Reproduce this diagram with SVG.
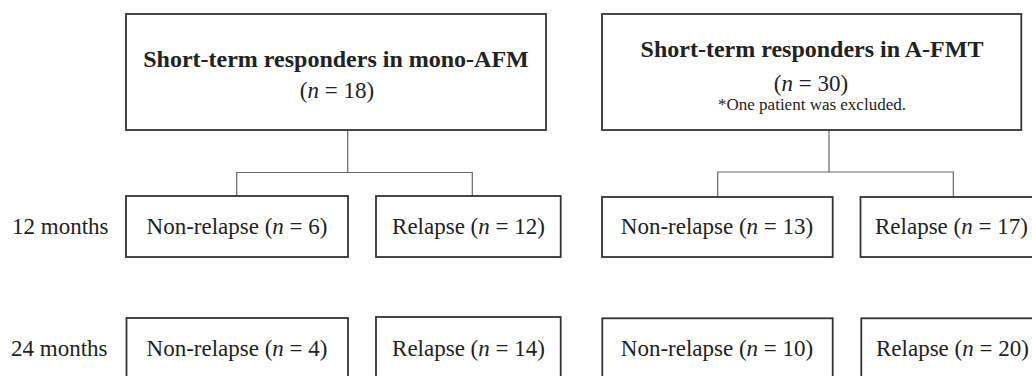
<svg xmlns="http://www.w3.org/2000/svg" width="1032" height="376" viewBox="0 0 1032 376">
<style>
.box{fill:#fff;stroke:#333;stroke-width:1.8}
.con{fill:none;stroke:#666;stroke-width:1.2}
text{font-family:"Liberation Serif","Times New Roman",serif;fill:#222}
.t{font-size:23px}
.h{font-size:24px;font-weight:bold}
.s{font-size:17px}
.i{font-style:italic}
</style>
<rect width="1032" height="376" fill="#fff"/>
<g id="connectors">
<path class="con" d="M347.7 130V172.5M236.7 196V172.5H472.3V196"/>
<path class="con" d="M829 130V172M717.7 197V172H953.3V197"/>
</g>
<g id="label-12">
<text class="t" x="12" y="234">12 months</text>
</g>
<g id="label-24">
<text class="t" x="11" y="356">24 months</text>
</g>
<g id="top-mono">
<rect class="box" x="126" y="14" width="420" height="116"/>
<text class="h" x="336" y="67" text-anchor="middle">Short-term responders in mono-AFM</text>
<text class="t" x="337" y="98" text-anchor="middle">(<tspan class="i">n</tspan> = 18)</text>
</g>
<g id="top-afmt">
<rect class="box" x="602" y="14" width="419.3" height="116"/>
<text class="h" x="812" y="57" text-anchor="middle">Short-term responders in A-FMT</text>
<text class="t" x="811" y="91" text-anchor="middle">(<tspan class="i">n</tspan> = 30)</text>
<text class="s" x="812" y="110" text-anchor="middle">*One patient was excluded.</text>
</g>
<g id="m12-nr">
<rect class="box" x="126" y="196" width="222" height="61"/>
<text class="t" x="237" y="234" text-anchor="middle">Non-relapse (<tspan class="i">n</tspan> = 6)</text>
</g>
<g id="m12-r">
<rect class="box" x="376" y="196" width="184.7" height="61"/>
<text class="t" x="468.5" y="234" text-anchor="middle">Relapse (<tspan class="i">n</tspan> = 12)</text>
</g>
<g id="a12-nr">
<rect class="box" x="602" y="197" width="230.7" height="60"/>
<text class="t" x="717" y="234" text-anchor="middle">Non-relapse (<tspan class="i">n</tspan> = 13)</text>
</g>
<g id="a12-r">
<rect class="box" x="860.5" y="197" width="200" height="60"/>
<text class="t" x="875" y="234">Relapse (<tspan class="i">n</tspan> = 17)</text>
</g>
<g id="m24-nr">
<rect class="box" x="126.5" y="318" width="221.5" height="80"/>
<text class="t" x="237" y="356" text-anchor="middle">Non-relapse (<tspan class="i">n</tspan> = 4)</text>
</g>
<g id="m24-r">
<rect class="box" x="376" y="317" width="184.7" height="80"/>
<text class="t" x="468.5" y="356" text-anchor="middle">Relapse (<tspan class="i">n</tspan> = 14)</text>
</g>
<g id="a24-nr">
<rect class="box" x="602.3" y="318.3" width="230.4" height="80"/>
<text class="t" x="717" y="356" text-anchor="middle">Non-relapse (<tspan class="i">n</tspan> = 10)</text>
</g>
<g id="a24-r">
<rect class="box" x="861.3" y="318.3" width="200" height="80"/>
<text class="t" x="876" y="356">Relapse (<tspan class="i">n</tspan> = 20)</text>
</g>
</svg>
